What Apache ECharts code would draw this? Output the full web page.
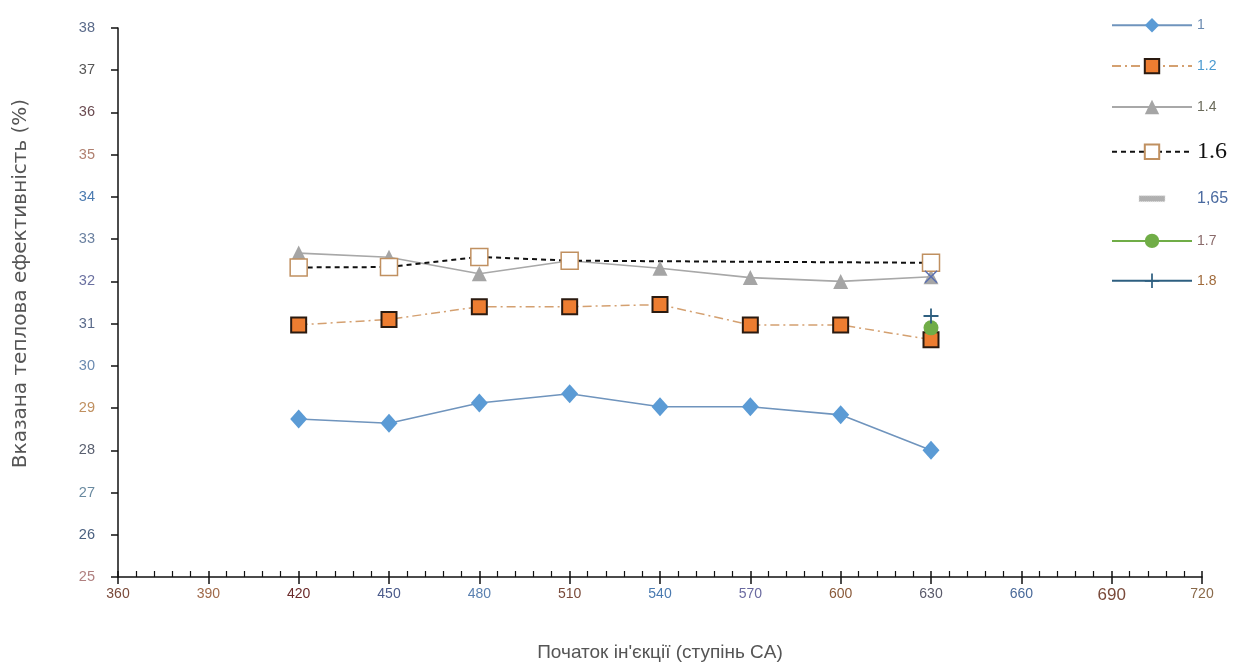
<!DOCTYPE html>
<html><head><meta charset="utf-8">
<script src="https://cdn.jsdelivr.net/npm/echarts@6/dist/echarts.min.js"></script>
<style>html,body{margin:0;padding:0;background:#fff}#c{width:1250px;height:672px}</style>
</head><body><div id="c"></div>
<script>
const xCats = [420, 450, 480, 510, 540, 570, 600, 630];
const s1   = [28.74, 28.64, 29.12, 29.34, 29.03, 29.03, 28.84, 28.00];
const s12  = [30.97, 31.10, 31.40, 31.40, 31.45, 30.97, 30.97, 30.62];
const s14  = [32.67, 32.57, 32.18, 32.49, 32.31, 32.09, 32.00, 32.11];
const s16  = [32.33, 32.34, 32.58, 32.49, null, null, null, 32.44];
const s165 = [null, null, null, null, null, null, null, 32.11];
const s17  = [null, null, null, null, null, null, null, 30.90];
const s18  = [null, null, null, null, null, null, null, 31.18];
const seriesNames = ['1', '1.2', '1.4', '1.6', '1,65', '1.7', '1.8'];
const xTickLabels = [360, 390, 420, 450, 480, 510, 540, 570, 600, 630, 660, 690, 720];
const yTickLabels = [25, 26, 27, 28, 29, 30, 31, 32, 33, 34, 35, 36, 37, 38];

const pairs = arr => xCats.map((x, i) => [x, arr[i]]);

const yColors = {25:'#b08080',26:'#4a6080',27:'#6a8aa0',28:'#5a6070',29:'#c09060',30:'#6a8ab0',31:'#5a6a8a',32:'#6a70a0',33:'#6a80a0',34:'#4a7ab0',35:'#b08070',36:'#6a4a50',37:'#555555',38:'#5a6a8a'};
const xColors = {360:'#7a4a3a',390:'#a06a4a',420:'#6a2a2a',450:'#4a5a8a',480:'#5a80b0',510:'#7a4a3a',540:'#4a7ab0',570:'#6a6aa0',600:'#8a5a3a',630:'#5a5a6a',660:'#4a6a9a',690:'#7a4a3a',720:'#8a6a4a'};
const yRich = {}; yTickLabels.forEach(v => yRich['y' + v] = {color: yColors[v], fontSize: 14.5, fontFamily: 'Liberation Sans'});
const xRich = {}; xTickLabels.forEach(v => xRich['x' + v] = {color: xColors[v], fontSize: v === 690 ? 17 : 14, fontFamily: 'Liberation Sans'});

const plusPath = 'path://M4.4 0 H5.6 V4.4 H10 V5.6 H5.6 V10 H4.4 V5.6 H0 V4.4 H4.4 Z';
const crossPath = 'path://M0.8 0 L5 4.2 L9.2 0 L10 0.8 L5.8 5 L10 9.2 L9.2 10 L5 5.8 L0.8 10 L0 9.2 L4.2 5 L0 0.8 Z';
const legIcon165 = 'path://M0 0 M78 18 M26 6 L52 6 L52 12 L26 12 Z';

const chart = echarts.init(document.getElementById('c'), null, {renderer: 'canvas'});
chart.setOption({
  animation: false,
  backgroundColor: '#fff',
  grid: {left: 118, right: 48, top: 28, bottom: 95, outerBoundsMode: 'none', containLabel: false},
  legend: {
    orient: 'vertical', left: 1106, top: 13,
    itemWidth: 80, itemHeight: 18, itemGap: 25.5,
    data: [
      {name: '1'}, {name: '1.2'}, {name: '1.4'}, {name: '1.6'},
      {name: '1,65', icon: legIcon165, itemStyle: {color: '#b0b0b0', borderColor: '#e0e0e0', borderWidth: 1, borderType: 'dotted'}},
      {name: '1.7'}, {name: '1.8'}
    ],
    formatter: n => '{' + ({'1':'a','1.2':'b','1.4':'c','1.6':'d','1,65':'e','1.7':'f','1.8':'g'}[n]) + '|' + n + '}',
    textStyle: {
      rich: {
        a: {color: '#6a8ab0', fontSize: 14, fontFamily: 'Liberation Sans'},
        b: {color: '#4a9ad0', fontSize: 14, fontFamily: 'Liberation Sans'},
        c: {color: '#6a6a5a', fontSize: 14, fontFamily: 'Liberation Sans'},
        d: {color: '#111', fontSize: 24, fontFamily: 'Liberation Serif'},
        e: {color: '#4a6aa0', fontSize: 16, fontFamily: 'Liberation Sans'},
        f: {color: '#8a6a6a', fontSize: 14, fontFamily: 'Liberation Sans'},
        g: {color: '#a06a3a', fontSize: 14, fontFamily: 'Liberation Sans'}
      }
    }
  },
  xAxis: [{
    type: 'value', min: 360, max: 720, interval: 30,
    name: 'Початок ін\'єкції (ступінь CA)', nameLocation: 'middle', nameGap: 66,
    nameTextStyle: {color: '#555', fontSize: 19, fontFamily: 'Liberation Sans'},
    axisLine: {lineStyle: {color: '#111', width: 1.5}},
    axisTick: {inside: false, length: 7, lineStyle: {color: '#111', width: 1.5}},
    axisLabel: {margin: 10, formatter: v => '{x' + v + '|' + v + '}', rich: xRich},
    splitLine: {show: false}
  }, {
    type: 'value', min: 360, max: 720, interval: 30, position: 'bottom',
    axisLine: {show: false},
    axisTick: {inside: true, length: 6, lineStyle: {color: '#111', width: 1.5}},
    minorTick: {show: true, splitNumber: 5, length: 6, lineStyle: {color: '#111', width: 1.2}},
    axisLabel: {show: false}, splitLine: {show: false}
  }],
  yAxis: {
    type: 'value', min: 25, max: 38, interval: 1,
    name: 'Вказана теплова ефективність (%)', nameLocation: 'middle', nameGap: 87,
    nameTextStyle: {color: '#555', fontSize: 20, fontFamily: 'DejaVu Sans', padding: [0, 0, 0, 38]},
    axisLine: {show: true, lineStyle: {color: '#111', width: 1.5}},
    axisTick: {show: true, inside: false, length: 7, lineStyle: {color: '#111', width: 1.5}},
    axisLabel: {margin: 23, formatter: v => '{y' + v + '|' + v + '}', rich: yRich},
    splitLine: {show: false}
  },
  series: [
    {name: '1', type: 'line', data: pairs(s1), symbol: 'diamond', symbolSize: [17, 19],
     itemStyle: {color: '#5b9bd5'}, lineStyle: {color: '#6f94bd', width: 1.6}},
    {name: '1.2', type: 'line', data: pairs(s12), symbol: 'rect', symbolSize: 15,
     itemStyle: {color: '#ed7d31', borderColor: '#2a1a10', borderWidth: 2},
     lineStyle: {color: '#d4a070', width: 1.5, type: [9, 4, 2, 4]}},
    {name: '1.4', type: 'line', data: pairs(s14), symbol: 'triangle', symbolSize: 15,
     itemStyle: {color: '#a5a5a5'}, lineStyle: {color: '#a8a8a8', width: 1.6}},
    {name: '1.6', type: 'line', data: pairs(s16), connectNulls: true, symbol: 'rect', symbolSize: 17,
     itemStyle: {color: '#ffffff', borderColor: '#c09060', borderWidth: 1.5},
     lineStyle: {color: '#111', width: 2, type: [5, 4]}, z: 3},
    {name: '1,65', type: 'line', data: pairs(s165), symbol: crossPath, symbolSize: 13,
     itemStyle: {color: '#5a6fb0'}, lineStyle: {color: '#9a9a9a', width: 5}, z: 4},
    {name: '1.7', type: 'line', data: pairs(s17), symbol: 'circle', symbolSize: 15,
     itemStyle: {color: '#70ad47'}, lineStyle: {color: '#70ad47', width: 1.6}, z: 4},
    {name: '1.8', type: 'line', data: pairs(s18), symbol: plusPath, symbolSize: 15,
     itemStyle: {color: '#2e5f80'}, lineStyle: {color: '#2e5f80', width: 1.6}, z: 5}
  ]
});
</script></body></html>
